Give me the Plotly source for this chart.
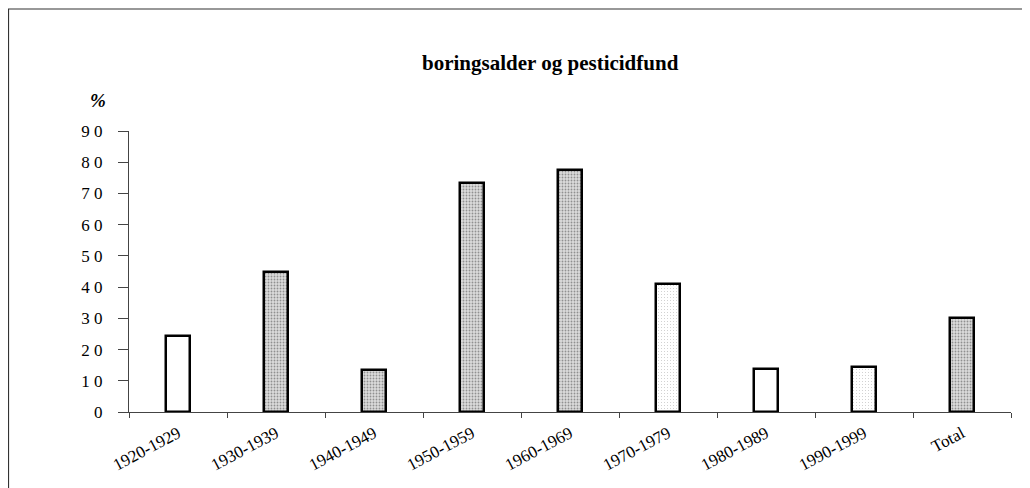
import plotly.graph_objects as go

categories = ["1920-1929", "1930-1939", "1940-1949", "1950-1959", "1960-1969",
              "1970-1979", "1980-1989", "1990-1999", "Total"]
values = [24.5, 45, 13.5, 73.5, 77.5, 41, 13.8, 14.3, 30]
y_tick_vals = [0, 10, 20, 30, 40, 50, 60, 70, 80, 90]
y_tick_text = ["0", "1 0", "2 0", "3 0", "4 0", "5 0", "6 0", "7 0", "8 0", "9 0"]

# fill style per bar: 'white', 'gray' (dense stipple), 'light' (sparse stipple)
fill_style = ["white", "gray", "gray", "gray", "gray", "light", "white", "light", "gray"]

bg = {"white": "white", "gray": "#dcdcdc", "light": "white"}
fg = {"white": "white", "gray": "#8f8f8f", "light": "#b8b8b8"}
shape = {"white": "", "gray": ".", "light": "."}
solid = {"white": 0.0, "gray": 0.3, "light": 0.06}

FONT = "Liberation Serif, Times New Roman, serif"

# page body has an 8px margin; figure coordinates are offset accordingly
L, T = 121, 123
PW, PH = 882, 281

fig = go.Figure()
fig.add_trace(go.Bar(
    x=categories, y=values, width=0.235,
    marker=dict(
        color=[bg[s] for s in fill_style],
        line=dict(color="black", width=2.5),
        pattern=dict(
            shape=[shape[s] for s in fill_style],
            fgcolor=[fg[s] for s in fill_style],
            bgcolor=[bg[s] for s in fill_style],
            size=3,
            solidity=[solid[s] for s in fill_style],
        ),
    ),
    showlegend=False,
))

fig.update_layout(
    width=1030, height=488,
    margin=dict(l=L, r=1030 - L - PW, t=T, b=488 - T - PH),
    paper_bgcolor="white", plot_bgcolor="white",
    font=dict(family=FONT, size=14, color="black"),
    bargap=0,
    xaxis=dict(
        range=[-0.5, 8.5], showgrid=False, showline=True, linecolor="#444",
        linewidth=1, ticks="outside", ticklen=5, tickcolor="#444",
        tickson="boundaries", tickangle=-28, ticklabelstandoff=4,
        tickfont=dict(family=FONT, size=17, color="black"),
    ),
    yaxis=dict(
        range=[0, 90], showgrid=False, showline=True, linecolor="#444",
        linewidth=1, ticks="outside", ticklen=10, tickcolor="#444",
        ticklabelstandoff=12,
        tickvals=y_tick_vals, ticktext=y_tick_text, zeroline=False,
        tickfont=dict(family=FONT, size=17, color="black"),
    ),
    shapes=[dict(type="rect", xref="paper", yref="paper",
                 x0=(0.5 - L) / PW, x1=1.1, y0=-0.6, y1=1 + (T - 1) / PH,
                 line=dict(color="#333", width=1.2), fillcolor="rgba(0,0,0,0)")],
    annotations=[
        dict(text="<b>boringsalder og pesticidfund</b>", xref="paper", yref="paper",
             x=(550 - 8 - L) / PW, y=1 + (T - (63 - 8)) / PH, xanchor="center",
             yanchor="middle", showarrow=False,
             font=dict(family=FONT, size=21, color="black")),
        dict(text="<b><i>%</i></b>", xref="paper", yref="paper",
             x=(98 - 8 - L) / PW, y=(T + PH - (100 - 8)) / PH, xanchor="center",
             yanchor="middle", showarrow=False,
             font=dict(family=FONT, size=19, color="black")),
    ],
)

fig.write_html("out.html")
